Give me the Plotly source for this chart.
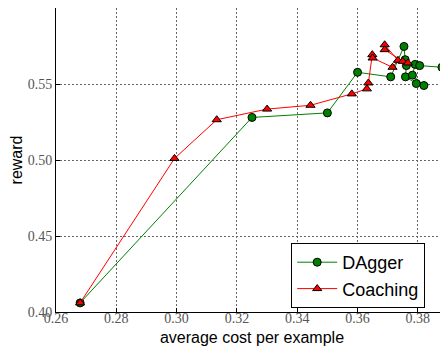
import plotly.graph_objects as go

# DAgger series
dagger_cost = [0.268, 0.325, 0.350, 0.360, 0.371, 0.3754, 0.3758, 0.3762, 0.3759,
               0.3795, 0.3820, 0.3782, 0.3791, 0.3806, 0.3880]
dagger_reward = [0.406, 0.528, 0.531, 0.5577, 0.5547, 0.5747, 0.5660, 0.5621, 0.5547,
                 0.5503, 0.5490, 0.5558, 0.5629, 0.5621, 0.5610]

# Coaching series
coach_cost = [0.268, 0.2993, 0.3133, 0.3300, 0.3444, 0.3581, 0.3631, 0.3636, 0.3649,
              0.3650, 0.3716, 0.3734, 0.3690, 0.3690, 0.3750, 0.3767]
coach_reward = [0.406, 0.501, 0.5265, 0.5335, 0.5360, 0.5435, 0.5468, 0.5507, 0.5693,
                0.5671, 0.5610, 0.5656, 0.5758, 0.5726, 0.5649, 0.5638]

x_ticks = [0.26, 0.28, 0.30, 0.32, 0.34, 0.36, 0.38]
y_ticks = [0.40, 0.45, 0.50, 0.55]

fig = go.Figure()
fig.add_trace(go.Scatter(
    x=dagger_cost, y=dagger_reward, name="DAgger", mode="lines+markers",
    line=dict(color="#008000", width=1),
    marker=dict(symbol="circle", size=8, color="#008000", line=dict(color="black", width=1)),
))
fig.add_trace(go.Scatter(
    x=coach_cost, y=coach_reward, name="Coaching", mode="lines+markers",
    line=dict(color="#ff0000", width=1),
    marker=dict(symbol="triangle-up", size=8, color="#ff0000", line=dict(color="black", width=1)),
))

tickfont = dict(family="Liberation Serif, DejaVu Serif, serif", size=14, color="#555")
axis_common = dict(
    showline=True, linecolor="black", linewidth=1, mirror=True,
    ticks="inside", ticklen=4, tickcolor="black",
    showgrid=True, gridcolor="#666", griddash="2px,2px", gridwidth=1,
    zeroline=False, tickfont=tickfont, automargin=False,
)
fig.update_xaxes(
    range=[0.26, 0.39], tickvals=x_ticks, ticktext=[f"{v:.2f}" for v in x_ticks],
    ticklabelstandoff=-7,
    title=dict(text="average cost per example", font=dict(family="Liberation Sans, Arial, sans-serif", size=16, color="black"), standoff=7),
    **axis_common,
)
fig.update_yaxes(
    range=[0.40, 0.60], tickvals=y_ticks, ticktext=[f"{v:.2f}" for v in y_ticks],
    title=dict(text="reward", font=dict(family="Liberation Sans, Arial, sans-serif", size=16, color="black"), standoff=4),
    **axis_common,
)
fig.update_layout(
    width=440, height=339,
    margin=dict(l=48, r=0, t=0, b=35),
    paper_bgcolor="white", plot_bgcolor="white",
    showlegend=True,
    legend=dict(
        x=0.60, y=0.227, xanchor="left", yanchor="top",
        bgcolor="white", bordercolor="black", borderwidth=1,
        font=dict(family="Liberation Sans, Arial, sans-serif", size=18, color="black"),
        itemwidth=40, tracegroupgap=4,
    ),
)
fig.write_html("out.html")
